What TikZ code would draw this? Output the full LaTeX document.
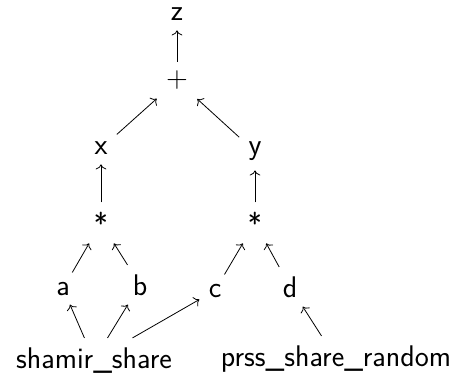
\documentclass[tikz,border=0pt]{standalone}
\usepackage{fontspec}
\usetikzlibrary{arrows.meta}
\begin{document}
\begin{tikzpicture}[x=0.75pt,y=-0.75pt,
  lbl/.style={anchor=base,inner sep=0pt,outer sep=7pt,font=\sffamily\fontsize{22.4}{26}\selectfont},
  edge/.style={-{To[scale=1.3]},line width=0.6pt}]
\useasboundingbox (0,0) rectangle (461,378);
\node[lbl] (z) at (177,21) {z};
\node[lbl] (plus) at (177,88) {+};
\node[lbl] (x) at (101,155) {x};
\node[lbl] (y) at (255,155) {y};
\node[lbl] (s1) at (101,234) {*};
\node[lbl] (s2) at (255,234) {*};
\node[lbl] (a) at (63,295) {a};
\node[lbl] (b) at (140,295) {b};
\node[lbl] (c) at (215,297) {c};
\node[lbl] (d) at (290,297) {d};
\node[lbl] (sh) at (94,368) {shamir\_share};
\node[lbl] (pr) at (336,366) {prss\_share\_random};
\draw[edge] (plus) -- (z);
\draw[edge] (x) -- (plus);
\draw[edge] (y) -- (plus);
\draw[edge] (s1) -- (x);
\draw[edge] (s2) -- (y);
\draw[edge] (a) -- (s1);
\draw[edge] (b) -- (s1);
\draw[edge] (c) -- (s2);
\draw[edge] (d) -- (s2);
\draw[edge] (sh) -- (a);
\draw[edge] (sh) -- (b);
\draw[edge] (sh) -- (c);
\draw[edge] (pr) -- (d);
\end{tikzpicture}
\end{document}
